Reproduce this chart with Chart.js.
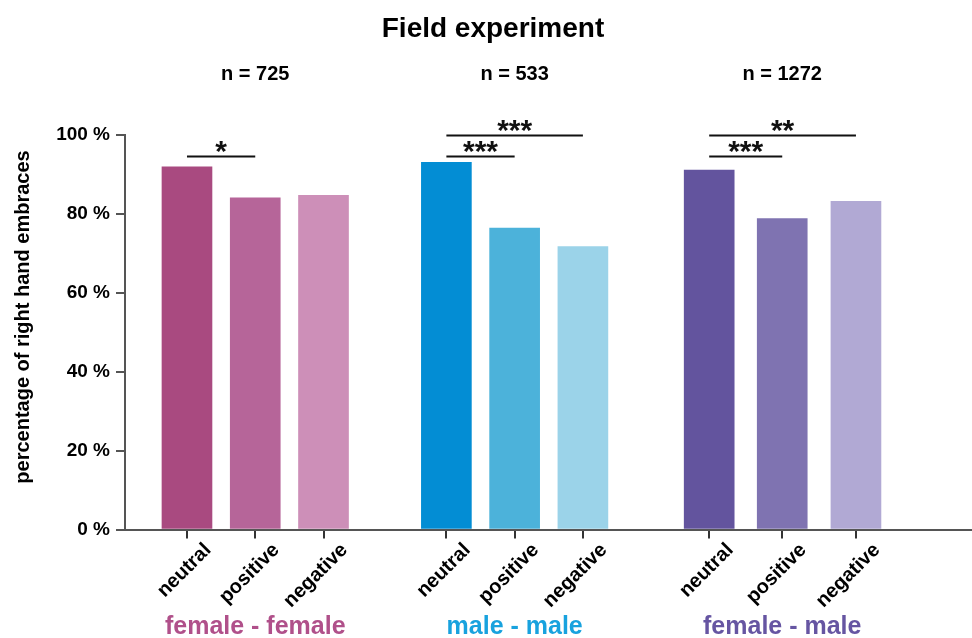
<!DOCTYPE html>
<html><head><meta charset="utf-8">
<script src="https://cdn.jsdelivr.net/npm/chart.js@4.4.1/dist/chart.umd.min.js"></script>
<style>html,body{margin:0;padding:0;background:#fff;}canvas{display:block;}</style>
</head><body>
<canvas id="c" width="972" height="638"></canvas>
<script>
// ---- data ----
const chartTitle = 'Field experiment';
const yAxisTitle = 'percentage of right hand embraces';
const groups = ['female - female', 'male - male', 'female - male'];
const groupSizes = ['n = 725', 'n = 533', 'n = 1272'];
const groupColors = ['#b0508a', '#18a2de', '#6655a2'];
const xTickLabels = ['neutral', 'positive', 'negative', 'neutral', 'positive', 'negative', 'neutral', 'positive', 'negative'];
const femaleFemale = [91.9, 84.1, 84.7];
const maleMale = [93.1, 76.4, 71.7];
const femaleMale = [91.1, 78.8, 83.2];
const barPositions = [1, 2, 3, 4.8, 5.8, 6.8, 8.65, 9.72, 10.8];
const yTicks = [0, 20, 40, 60, 80, 100];
const barColors = ['#a94a80', '#b66599', '#cd8fb8', '#038dd4', '#4cb2da', '#9bd3e9', '#63549e', '#7f73b1', '#b1a9d4'];
const brackets = [
  { from: 0, to: 1, level: 1, stars: '*' },
  { from: 3, to: 4, level: 1, stars: '***' },
  { from: 3, to: 5, level: 2, stars: '***' },
  { from: 6, to: 7, level: 1, stars: '***' },
  { from: 6, to: 8, level: 2, stars: '**' }
];

const FONT = "'Liberation Sans', Arial, sans-serif";
const values = [...femaleFemale, ...maleMale, ...femaleMale];
const points = values.map((v, i) => ({ x: barPositions[i], y: v }));

const overlay = {
  id: 'overlay',
  afterDraw(chart) {
    const ctx = chart.ctx;
    const ys = chart.scales.y;
    const meta = chart.getDatasetMeta(0);
    ctx.save();
    ctx.fillStyle = '#000';
    ctx.textAlign = 'center';
    ctx.textBaseline = 'middle';
    ctx.font = 'bold 28px ' + FONT;
    ctx.fillText(chartTitle, 493, 29);
    ctx.font = 'bold 20px ' + FONT;
    groupSizes.forEach((t, g) => {
      const x = meta.data[g * 3 + 1].x;
      ctx.fillText(t, x, 74);
    });
    // y axis title
    ctx.save();
    ctx.translate(23, 317);
    ctx.rotate(-Math.PI / 2);
    ctx.font = 'bold 20px ' + FONT;
    ctx.fillText(yAxisTitle, 0, 0);
    ctx.restore();
    ctx.font = 'bold 25px ' + FONT;
    groups.forEach((t, g) => {
      const x = meta.data[g * 3 + 1].x;
      ctx.fillStyle = groupColors[g];
      ctx.fillText(t, x, 627);
    });
    // brackets
    ctx.strokeStyle = '#111';
    ctx.fillStyle = '#111';
    ctx.lineWidth = 2;
    ctx.font = 'bold 30px ' + FONT;
    ctx.textBaseline = 'alphabetic';
    brackets.forEach(b => {
      const x1 = meta.data[b.from].x, x2 = meta.data[b.to].x;
      const y = Math.round(ys.getPixelForValue(b.level === 1 ? 94.7 : 100.05)) + 0.5;
      ctx.beginPath();
      ctx.moveTo(x1, y); ctx.lineTo(x2, y); ctx.stroke();
      const m = ctx.measureText(b.stars);
      const bottom = y - 3.5;
      ctx.fillText(b.stars, (x1 + x2) / 2, bottom - m.actualBoundingBoxDescent);
    });
    ctx.restore();
  }
};

new Chart(document.getElementById('c'), {
  type: 'bar',
  data: {
    datasets: [{
      data: points,
      backgroundColor: barColors,
      borderWidth: 0,
      barThickness: 50
    }]
  },
  options: {
    responsive: false,
    animation: false,
    devicePixelRatio: 1,
    layout: { padding: { top: 135, left: 0, right: 0, bottom: 0 } },
    plugins: { legend: { display: false }, tooltip: { enabled: false }, title: { display: false } },
    scales: {
      x: {
        type: 'linear',
        offset: false,
        min: 0.092,
        max: 12.5,
        afterBuildTicks: s => { s.ticks = barPositions.map(v => ({ value: v })); },
        afterFit: s => { s.height = 108.5; },
        ticks: {
          autoSkip: false,
          minRotation: 45,
          maxRotation: 45,
          color: '#000',
          font: { family: FONT, size: 20, weight: 'bold' },
          padding: 0,
          labelOffset: 21,
          callback: (v, i) => xTickLabels[i]
        },
        grid: { drawOnChartArea: false, offset: false, tickLength: 9, color: '#333', lineWidth: 2 },
        border: { color: '#555', width: 2 }
      },
      y: {
        min: 0,
        max: 100,
        afterBuildTicks: s => { s.ticks = yTicks.map(v => ({ value: v })); },
        afterFit: s => { s.width = 125; },
        ticks: {
          color: '#000',
          font: { family: FONT, size: 19, weight: 'bold' },
          padding: 6,
          callback: v => v + ' %'
        },
        grid: { drawOnChartArea: false, tickLength: 9, color: '#555', lineWidth: 2 },
        border: { color: '#555', width: 2 }
      }
    }
  },
  plugins: [overlay]
});
</script>
</body></html>
